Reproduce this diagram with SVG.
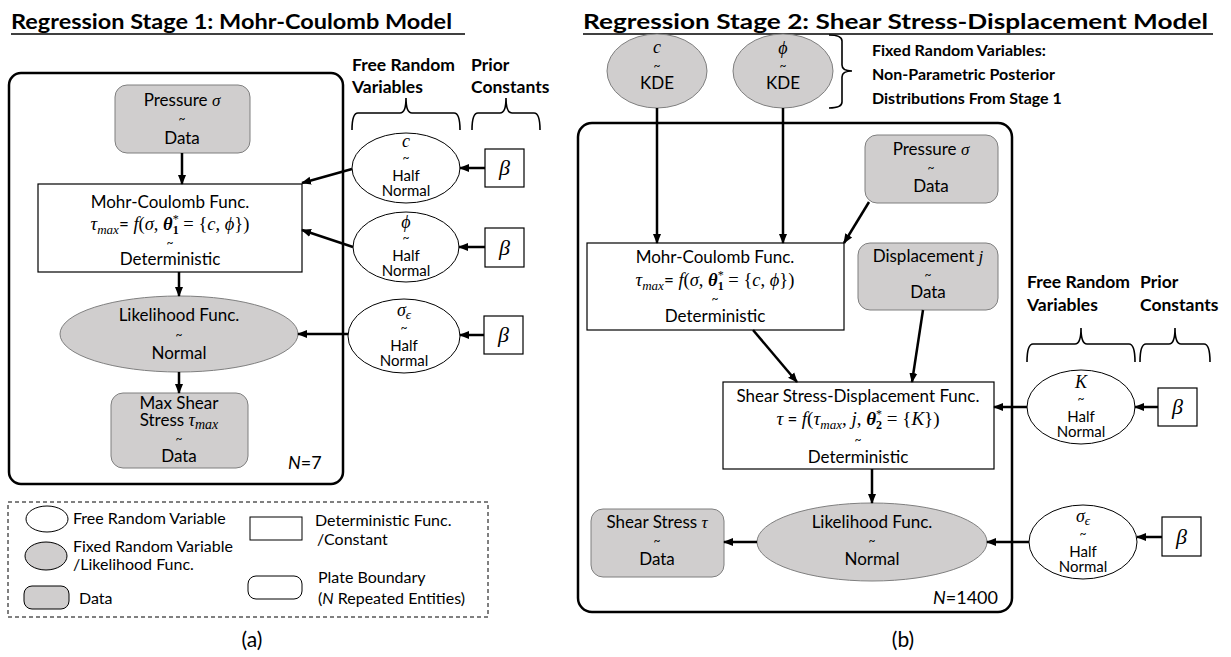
<svg xmlns="http://www.w3.org/2000/svg" width="1231" height="657" viewBox="0 0 1231 657">
<style>
.t{font-family:Lato,"Liberation Sans",sans-serif;font-size:17px;fill:#000}
.s{font-size:15px}
.lg{font-size:16px}
.h{font-size:17.5px;font-weight:bold}
.tl{font-family:Lato,"Liberation Sans",sans-serif;font-size:12px}
.b{font-weight:bold}
.m{font-family:"Liberation Serif","DejaVu Serif",serif;font-style:italic}
.mr{font-family:"Liberation Serif","DejaVu Serif",serif;font-style:normal}
.g{fill:#d0cece;stroke:#7f7f7f;stroke-width:1}
.w{fill:#fff;stroke:#000;stroke-width:1}
.bx{fill:#fff;stroke:#000;stroke-width:1.2}
.plate{fill:none;stroke:#000;stroke-width:2.5}
.arr{stroke:#000;stroke-width:2.5;fill:none;marker-end:url(#ah)}
.br{fill:none;stroke:#000;stroke-width:1.6}
</style>
<defs>
<marker id="ah" markerUnits="userSpaceOnUse" markerWidth="10" markerHeight="10" refX="9" refY="5" orient="auto">
<path d="M0,1 L10,5 L0,9 z" fill="#000"/>
</marker>
</defs>

<!-- Titles -->
<text x="11" y="29" class="t b" style="font-size:21px" textLength="441" lengthAdjust="spacingAndGlyphs">Regression Stage 1: Mohr-Coulomb Model</text>
<line x1="11" y1="34" x2="465" y2="34" stroke="#000" stroke-width="1.5"/>
<text x="583" y="29" class="t b" style="font-size:21px" textLength="625" lengthAdjust="spacingAndGlyphs">Regression Stage 2: Shear Stress-Displacement Model</text>
<line x1="583" y1="34" x2="1213" y2="34" stroke="#000" stroke-width="1.5"/>

<!-- ===== Stage 1 ===== -->
<g id="plate1"><rect x="9" y="73" width="334" height="411" rx="12" class="plate"/>
<text x="288" y="469" class="t" style="font-size:18px"><tspan font-style="italic">N</tspan>=7</text></g>

<g id="hdr1">
<text x="352" y="71" class="t h">Free Random</text>
<text x="352" y="93" class="t h">Variables</text>
<text x="471" y="71" class="t h">Prior</text>
<text x="471" y="93" class="t h">Constants</text>
<path class="br" d="M352,130 Q352,113 358,113 L400,113 Q406,113 406,98 Q406,113 412,113 L454,113 Q460,113 460,130"/>
<path class="br" d="M472,130 Q472,113 478,113 L500,113 Q506,113 506,98 Q506,113 512,113 L534,113 Q540,113 540,130"/>
</g>

<g id="pressure1"><rect x="115" y="85" width="135" height="68" rx="12" class="g"/>
<text x="182" y="106" text-anchor="middle" class="t">Pressure <tspan class="m">σ</tspan></text>
<text x="182" y="123" text-anchor="middle" class="tl">~</text>
<text x="182" y="144" text-anchor="middle" class="t">Data</text></g>

<g id="mc1"><rect x="38" y="184" width="264" height="88" class="bx"/>
<text x="170" y="208" text-anchor="middle" class="t">Mohr-Coulomb Func.</text>
<text x="170" y="230" text-anchor="middle" class="mr" style="font-size:18.5px"><tspan class="m">τ</tspan><tspan class="m" font-size="13" dy="4">max</tspan><tspan class="t" dy="-4">=</tspan><tspan class="m"> f</tspan>(<tspan class="m">σ</tspan>, <tspan font-weight="bold" class="m">θ</tspan><tspan font-size="12" dy="-7">*</tspan><tspan font-size="12" font-weight="bold" dx="-6" dy="11">1</tspan><tspan dy="-4"> = {</tspan><tspan class="m">c</tspan>, <tspan class="m">ϕ</tspan>})</text>
<text x="170" y="247" text-anchor="middle" class="tl">~</text>
<text x="170" y="265" text-anchor="middle" class="t">Deterministic</text></g>

<g id="lik1"><ellipse cx="179" cy="334" rx="119" ry="38" class="g"/>
<text x="179" y="321" text-anchor="middle" class="t">Likelihood Func.</text>
<text x="179" y="339" text-anchor="middle" class="tl">~</text>
<text x="179" y="359" text-anchor="middle" class="t">Normal</text></g>

<g id="maxshear1"><rect x="111" y="393" width="137" height="75" rx="12" class="g"/>
<text x="179" y="409" text-anchor="middle" class="t">Max Shear</text>
<text x="179" y="426" text-anchor="middle" class="t">Stress <tspan class="m" style="font-size:18px">τ</tspan><tspan class="m" font-size="14" dy="3">max</tspan></text>
<text x="179" y="443" text-anchor="middle" class="tl">~</text>
<text x="179" y="462" text-anchor="middle" class="t">Data</text></g>

<g id="c1"><ellipse cx="406" cy="168" rx="54" ry="35" class="w"/>
<text x="406" y="147" text-anchor="middle" class="m" style="font-size:18px">c</text>
<text x="406" y="162" text-anchor="middle" class="tl">~</text>
<text x="406" y="181" text-anchor="middle" class="t s">Half</text>
<text x="406" y="196" text-anchor="middle" class="t s">Normal</text></g>

<g id="phi1"><ellipse cx="406" cy="247" rx="53" ry="35" class="w"/>
<text x="406" y="228" text-anchor="middle" class="m" style="font-size:18px">ϕ</text>
<text x="406" y="242" text-anchor="middle" class="tl">~</text>
<text x="406" y="261" text-anchor="middle" class="t s">Half</text>
<text x="406" y="276" text-anchor="middle" class="t s">Normal</text></g>

<g id="se1"><ellipse cx="404" cy="336" rx="56" ry="37" class="w"/>
<text x="404" y="316" text-anchor="middle" class="m" style="font-size:18px">σ<tspan font-size="13" dy="3">ϵ</tspan></text>
<text x="404" y="332" text-anchor="middle" class="tl">~</text>
<text x="404" y="351" text-anchor="middle" class="t s">Half</text>
<text x="404" y="366" text-anchor="middle" class="t s">Normal</text></g>

<g id="beta1a"><rect x="485" y="149" width="39" height="38" class="bx"/><text x="504.5" y="175" text-anchor="middle" class="m" style="font-size:22px">β</text></g>
<g id="beta1b"><rect x="485" y="228" width="39" height="39" class="bx"/><text x="504.5" y="255" text-anchor="middle" class="m" style="font-size:22px">β</text></g>
<g id="beta1c"><rect x="484" y="316" width="39" height="38" class="bx"/><text x="503.5" y="342" text-anchor="middle" class="m" style="font-size:22px">β</text></g>

<!-- ===== Legend ===== -->
<g id="legend">
<rect x="8" y="502" width="480" height="115" fill="none" stroke="#000" stroke-width="1" stroke-dasharray="4,3"/>
<ellipse cx="47" cy="519" rx="21" ry="13" class="w"/>
<text x="73" y="524" class="t lg">Free Random Variable</text>
<ellipse cx="46" cy="556" rx="21" ry="14" class="g" style="stroke:#000"/>
<text x="73" y="552" class="t lg">Fixed Random Variable</text>
<text x="73" y="570" class="t lg">/Likelihood Func.</text>
<rect x="24" y="586" width="45" height="23" rx="8" class="g" style="stroke:#000"/>
<text x="79" y="604" class="t lg">Data</text>
<rect x="250" y="517" width="52" height="23" class="w"/>
<text x="315" y="526" class="t lg">Deterministic Func.</text>
<text x="317" y="545" class="t lg">/Constant</text>
<rect x="248" y="576" width="54" height="23" rx="8" class="w"/>
<text x="318" y="583" class="t lg">Plate Boundary</text>
<text x="318" y="604" class="t lg">(<tspan font-style="italic">N</tspan> Repeated Entities)</text>
</g>
<text x="252" y="647" text-anchor="middle" class="t" style="font-size:21px">(a)</text>

<!-- ===== Stage 2 ===== -->
<g id="plate2"><rect x="578" y="123" width="434" height="489" rx="14" class="plate"/>
<text x="933" y="604" class="t" style="font-size:18px"><tspan font-style="italic">N</tspan>=1400</text></g>

<g id="ckde"><ellipse cx="657" cy="71" rx="50" ry="37" class="g"/>
<text x="657" y="53" text-anchor="middle" class="m" style="font-size:18px">c</text>
<text x="657" y="70" text-anchor="middle" class="tl">~</text>
<text x="657" y="89" text-anchor="middle" class="t">KDE</text></g>
<g id="phikde"><ellipse cx="783" cy="71" rx="50" ry="37" class="g"/>
<text x="783" y="54" text-anchor="middle" class="m" style="font-size:18px">ϕ</text>
<text x="783" y="70" text-anchor="middle" class="tl">~</text>
<text x="783" y="89" text-anchor="middle" class="t">KDE</text></g>
<g id="fixedlabel">
<path class="br" d="M829,35 Q842,35 842,41 L842,65 Q842,71 852,71 Q842,71 842,77 L842,102 Q842,108 829,108"/>
<text x="872" y="56" class="t b lg">Fixed Random Variables:</text>
<text x="872" y="80" class="t b lg">Non-Parametric Posterior</text>
<text x="872" y="104" class="t b lg">Distributions From Stage 1</text>
</g>

<g id="pressure2"><rect x="865" y="135" width="133" height="68" rx="12" class="g"/>
<text x="931" y="155" text-anchor="middle" class="t">Pressure <tspan class="m">σ</tspan></text>
<text x="931" y="172" text-anchor="middle" class="tl">~</text>
<text x="931" y="192" text-anchor="middle" class="t">Data</text></g>

<g id="disp2"><rect x="858" y="243" width="140" height="67" rx="12" class="g"/>
<text x="928" y="262" text-anchor="middle" class="t">Displacement <tspan class="m">j</tspan></text>
<text x="928" y="279" text-anchor="middle" class="tl">~</text>
<text x="928" y="298" text-anchor="middle" class="t">Data</text></g>

<g id="mc2"><rect x="587" y="243" width="257" height="87" class="bx"/>
<text x="715" y="263" text-anchor="middle" class="t">Mohr-Coulomb Func.</text>
<text x="715" y="286" text-anchor="middle" class="mr" style="font-size:18.5px"><tspan class="m">τ</tspan><tspan class="m" font-size="13" dy="4">max</tspan><tspan class="t" dy="-4">=</tspan><tspan class="m"> f</tspan>(<tspan class="m">σ</tspan>, <tspan font-weight="bold" class="m">θ</tspan><tspan font-size="12" dy="-7">*</tspan><tspan font-size="12" font-weight="bold" dx="-6" dy="11">1</tspan><tspan dy="-4"> = {</tspan><tspan class="m">c</tspan>, <tspan class="m">ϕ</tspan>})</text>
<text x="715" y="303" text-anchor="middle" class="tl">~</text>
<text x="715" y="322" text-anchor="middle" class="t">Deterministic</text></g>

<g id="ssd2"><rect x="723" y="382" width="271" height="87" class="bx"/>
<text x="858" y="402" text-anchor="middle" class="t">Shear Stress-Displacement Func.</text>
<text x="858" y="425" text-anchor="middle" class="mr" style="font-size:19px"><tspan class="m">τ</tspan><tspan class="t"> = </tspan><tspan class="m">f</tspan>(<tspan class="m">τ</tspan><tspan class="m" font-size="13" dy="4">max</tspan><tspan dy="-4">, </tspan><tspan class="m">j</tspan>, <tspan font-weight="bold" class="m">θ</tspan><tspan font-size="12" dy="-7">*</tspan><tspan font-size="12" font-weight="bold" dx="-6" dy="11">2</tspan><tspan dy="-4"> = {</tspan><tspan class="m">K</tspan>})</text>
<text x="858" y="444" text-anchor="middle" class="tl">~</text>
<text x="858" y="463" text-anchor="middle" class="t">Deterministic</text></g>

<g id="lik2"><ellipse cx="872" cy="542" rx="115" ry="39" class="g"/>
<text x="872" y="528" text-anchor="middle" class="t">Likelihood Func.</text>
<text x="872" y="545" text-anchor="middle" class="tl">~</text>
<text x="872" y="565" text-anchor="middle" class="t">Normal</text></g>

<g id="shear2"><rect x="591" y="509" width="133" height="68" rx="12" class="g"/>
<text x="657" y="528" text-anchor="middle" class="t">Shear Stress <tspan class="m">τ</tspan></text>
<text x="657" y="545" text-anchor="middle" class="tl">~</text>
<text x="657" y="565" text-anchor="middle" class="t">Data</text></g>

<g id="hdr2">
<text x="1027" y="288" class="t h">Free Random</text>
<text x="1027" y="311" class="t h">Variables</text>
<text x="1140" y="288" class="t h">Prior</text>
<text x="1140" y="311" class="t h">Constants</text>
<path class="br" d="M1027,362 Q1027,344 1033,344 L1075,344 Q1081,344 1081,328 Q1081,344 1087,344 L1129,344 Q1135,344 1135,362"/>
<path class="br" d="M1140,362 Q1140,344 1146,344 L1169,344 Q1175,344 1175,328 Q1175,344 1181,344 L1204,344 Q1210,344 1210,362"/>
</g>

<g id="k2"><ellipse cx="1081" cy="407" rx="54" ry="37" class="w"/>
<text x="1081" y="388" text-anchor="middle" class="m" style="font-size:18px">K</text>
<text x="1081" y="403" text-anchor="middle" class="tl">~</text>
<text x="1081" y="422" text-anchor="middle" class="t s">Half</text>
<text x="1081" y="437" text-anchor="middle" class="t s">Normal</text></g>

<g id="se2"><ellipse cx="1083" cy="542" rx="54" ry="37" class="w"/>
<text x="1083" y="522" text-anchor="middle" class="m" style="font-size:18px">σ<tspan font-size="13" dy="3">ϵ</tspan></text>
<text x="1083" y="538" text-anchor="middle" class="tl">~</text>
<text x="1083" y="557" text-anchor="middle" class="t s">Half</text>
<text x="1083" y="572" text-anchor="middle" class="t s">Normal</text></g>

<g id="beta2a"><rect x="1158" y="388" width="39" height="38" class="bx"/><text x="1177.5" y="414" text-anchor="middle" class="m" style="font-size:22px">β</text></g>
<g id="beta2b"><rect x="1162" y="517" width="39" height="39" class="bx"/><text x="1181.5" y="544" text-anchor="middle" class="m" style="font-size:22px">β</text></g>
<text x="903" y="647" text-anchor="middle" class="t" style="font-size:21px">(b)</text>

<!-- ===== Connectors ===== -->
<g id="connectors">
<line class="arr" x1="182" y1="153" x2="182" y2="184"/>
<line class="arr" x1="179" y1="272" x2="179" y2="296"/>
<line class="arr" x1="179" y1="372" x2="179" y2="393"/>
<line class="arr" x1="352" y1="169" x2="302" y2="183"/>
<line class="arr" x1="353" y1="247" x2="302" y2="230"/>
<line class="arr" x1="348" y1="334" x2="298" y2="334"/>
<line class="arr" x1="485" y1="168" x2="460" y2="168"/>
<line class="arr" x1="485" y1="247" x2="459" y2="247"/>
<line class="arr" x1="484" y1="335" x2="460" y2="335"/>

<line class="arr" x1="657" y1="108" x2="657" y2="243"/>
<line class="arr" x1="783" y1="108" x2="783" y2="243"/>
<line class="arr" x1="869" y1="202" x2="844" y2="243"/>
<line class="arr" x1="753" y1="330" x2="797" y2="382"/>
<line class="arr" x1="923" y1="310" x2="912" y2="382"/>
<line class="arr" x1="1027" y1="407" x2="994" y2="407"/>
<line class="arr" x1="1158" y1="407" x2="1135" y2="407"/>
<line class="arr" x1="872" y1="469" x2="872" y2="503"/>
<line class="arr" x1="1029" y1="542" x2="987" y2="542"/>
<line class="arr" x1="1162" y1="537" x2="1137" y2="537"/>
<line class="arr" x1="757" y1="542" x2="724" y2="542"/>
</g>
</svg>
